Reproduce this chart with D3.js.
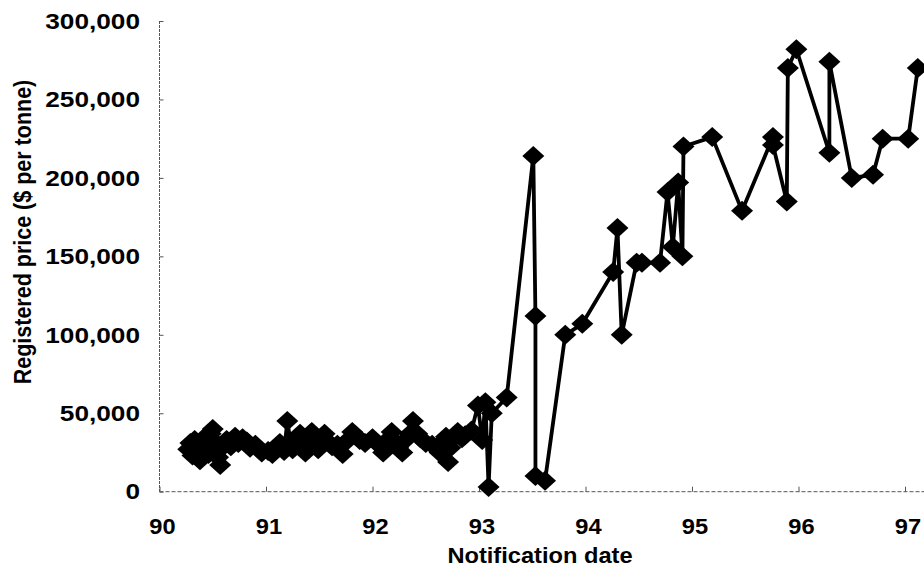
<!DOCTYPE html>
<html>
<head>
<meta charset="utf-8">
<script src="https://cdn.jsdelivr.net/npm/d3@7"></script>
<style>
  html, body { margin: 0; padding: 0; background: #fff; }
  svg { display: block; }
  text { font-family: "Liberation Sans", Arial, Helvetica, sans-serif; font-weight: bold; fill: #000; }
</style>
</head>
<body>
<svg id="chart" width="924" height="575"></svg>
<script>
// Notification date (decimal year, 19xx) of each registration
const dates = [
  90.27, 90.29, 90.31, 90.33, 90.36, 90.38, 90.41, 90.43, 90.46, 90.48,
  90.50, 90.53, 90.55, 90.57, 90.60, 90.63, 90.67, 90.71, 90.74, 90.78,
  90.82, 90.85, 90.90, 90.96, 91.02, 91.06, 91.10, 91.13, 91.17, 91.20,
  91.23, 91.25, 91.29, 91.32, 91.35, 91.37, 91.40, 91.43, 91.46, 91.49,
  91.52, 91.55, 91.58, 91.62, 91.67, 91.72, 91.77, 91.81, 91.84, 91.88,
  91.93, 92.00, 92.04, 92.08, 92.10, 92.14, 92.18, 92.21, 92.24, 92.28,
  92.31, 92.35, 92.38, 92.42, 92.45, 92.50, 92.56, 92.60, 92.63, 92.66,
  92.69, 92.71, 92.73, 92.76, 92.80, 92.84, 92.87, 92.93,
  92.99, 93.03, 93.06, 93.09, 93.12, 93.26, 93.51, 93.53, 93.53, 93.62,
  93.81, 93.97, 94.26, 94.30, 94.34, 94.48, 94.53, 94.70, 94.77, 94.82,
  94.87, 94.91, 94.92, 95.19, 95.47, 95.76, 95.76, 95.89, 95.90, 95.98,
  96.29, 96.29, 96.50, 96.70, 96.79, 97.03, 97.12
];

// Registered price ($ per tonne) for each notification
const prices = [
  27000, 31000, 23000, 33000, 28000, 20000, 30000, 35000, 24000, 37000,
  40000, 31000, 22000, 17000, 29000, 33000, 29000, 35000, 31000, 34000,
  32000, 28000, 30000, 25000, 26000, 24000, 28000, 31000, 26000, 45000,
  32000, 27000, 34000, 37000, 28000, 25000, 33000, 38000, 30000, 27000,
  33000, 37000, 32000, 29000, 30000, 24000, 33000, 38000, 36000, 33000,
  31000, 34000, 31000, 29000, 25000, 33000, 38000, 32000, 28000, 25000,
  33000, 37000, 45000, 37000, 34000, 31000, 30000, 28000, 25000, 31000,
  35000, 19000, 28000, 34000, 38000, 34000, 36000, 39000,
  55000, 33000, 57000, 3000, 50000, 60000, 214000, 112000, 10000, 7000,
  100000, 107000, 140000, 168000, 100000, 146000, 146000, 146000, 191000, 156000,
  197000, 150000, 220000, 226000, 179000, 226000, 221000, 185000, 270000, 282000,
  216000, 274000, 200000, 202000, 225000, 225000, 270000
];

const xTicks = [90, 91, 92, 93, 94, 95, 96, 97];
const yTicks = [0, 50000, 100000, 150000, 200000, 250000, 300000];

const xTitle = "Notification date";
const yTitle = "Registered price ($ per tonne)";

const points = dates.map((d, i) => ({ date: d, price: prices[i] }));

const svg = d3.select("#chart");
const W = 924, H = 575;
const margin = { left: 159.5, top: 21, bottom: 83.3 };
const stretch = 1.1;       // slightly wide lettering
const yLabelStretch = 1.22; // value labels are set a little wider still
const fontSize = "21.5px";

const x = d3.scaleLinear().domain([90, 97]).range([margin.left, margin.left + 7 * 106.5]);
const y = d3.scaleLinear().domain([0, 300000]).range([H - margin.bottom, margin.top]);

const axisStroke = "#555";

// y axis: thin line with short inward ticks
const yAxis = svg.append("g").attr("transform", `translate(${margin.left},0)`)
  .call(d3.axisRight(y).tickValues(yTicks).tickSize(4).tickFormat(""));
yAxis.select(".domain").attr("stroke", axisStroke).attr("stroke-dasharray", "3,1").attr("d", `M0,${y(300000)}V${y(0)}`);
yAxis.selectAll(".tick line").attr("stroke", axisStroke);

// y tick labels
svg.append("g").selectAll("text").data(yTicks).join("text")
  .attr("transform", d => `translate(140,${y(d)}) scale(${yLabelStretch},1)`)
  .attr("dy", "0.36em")
  .attr("text-anchor", "end")
  .style("font-size", fontSize)
  .text(d => d3.format(",")(d));

// x axis: thin line spanning to the right edge, ticks pointing up
const xAxis = svg.append("g").attr("transform", `translate(0,${y(0)})`)
  .call(d3.axisTop(x).tickValues(xTicks).tickSize(5).tickFormat(""));
xAxis.select(".domain").attr("stroke", axisStroke).attr("stroke-dasharray", "4,2").attr("d", `M${margin.left},0H${W}`);
xAxis.selectAll(".tick line").attr("stroke", axisStroke);

// x tick labels
svg.append("g").selectAll("text").data(xTicks).join("text")
  .attr("transform", d => `translate(${x(d) + 3},534) scale(${stretch},1)`)
  .attr("text-anchor", "middle")
  .style("font-size", fontSize)
  .text(d => d);

// axis titles
svg.append("text")
  .attr("transform", `translate(540,563) scale(${stretch},1)`)
  .attr("text-anchor", "middle")
  .style("font-size", fontSize)
  .text(xTitle);

svg.append("text")
  .attr("transform", `translate(31,232) scale(${stretch},1) rotate(-90)`)
  .attr("text-anchor", "middle")
  .style("font-size", fontSize)
  .text(yTitle);

// price series: connected line with diamond markers
const plot = svg.append("g");

const line = d3.line().x(d => x(d.date)).y(d => y(d.price));
plot.append("path")
  .datum(points)
  .attr("fill", "none")
  .attr("stroke", "#000")
  .attr("stroke-width", 3.8)
  .attr("stroke-linejoin", "round")
  .attr("d", line);

const diamond = d3.symbol().type(d3.symbolSquare).size(200);
plot.selectAll("path.marker").data(points).join("path")
  .attr("class", "marker")
  .attr("d", diamond)
  .attr("fill", "#000")
  .attr("transform", d => `translate(${x(d.date)},${y(d.price)}) scale(${stretch},1) rotate(45)`);
</script>
</body>
</html>
